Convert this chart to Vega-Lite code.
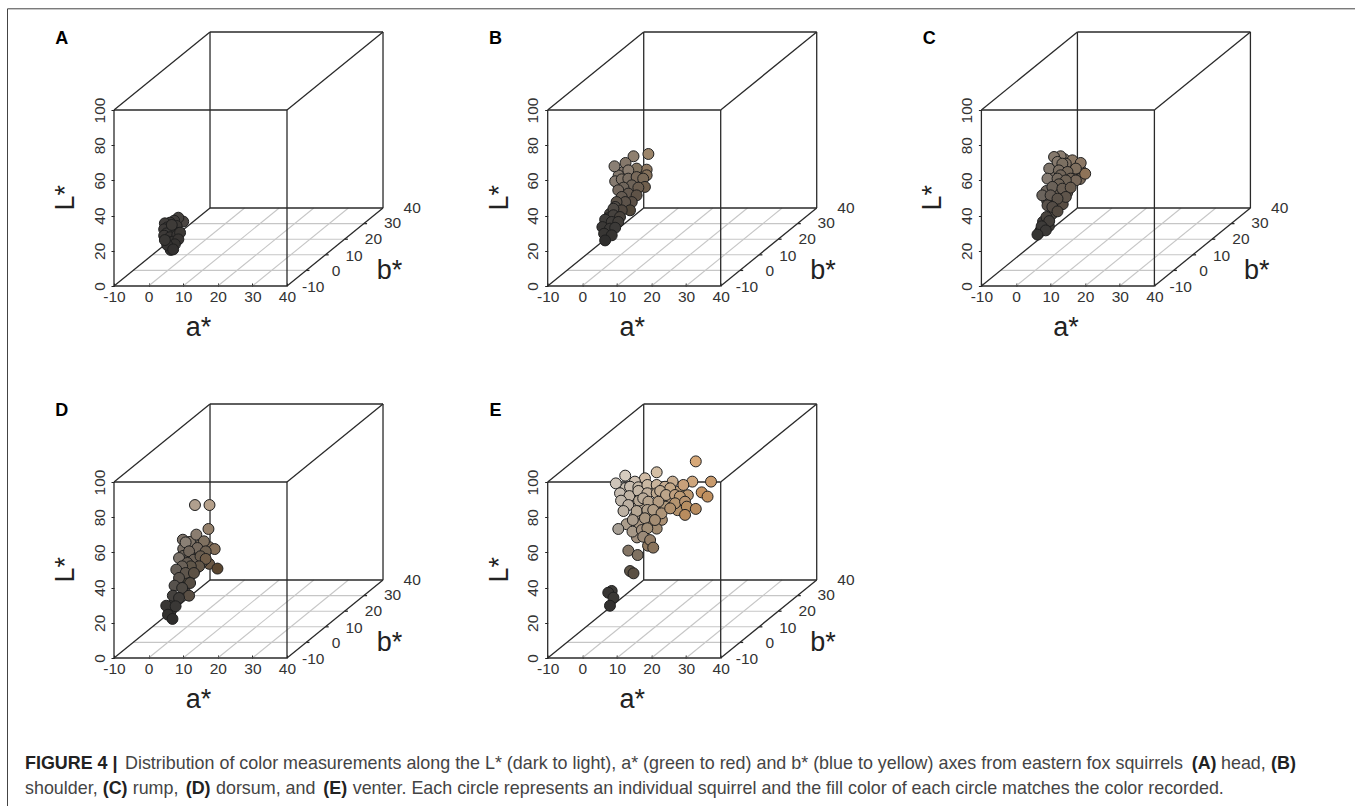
{
"$schema":"https://vega.github.io/schema/vega-lite/v6.json",
"padding":{"left":7,"top":8,"right":0,"bottom":0},
"config":{"view":{"stroke":null},"font":"Liberation Sans"},
"datasets":{
"points":[
{"panel":"B","a":12.0,"L":65.0,"c":"#80746a"},{"panel":"B","a":16.5,"L":64.0,"c":"#7c6d5c"},{"panel":"B","a":10.5,"L":62.8,"c":"#82776c"},{"panel":"B","a":14.8,"L":60.0,"c":"#74675a"},{"panel":"B","a":12.6,"L":58.3,"c":"#72675c"},{"panel":"B","a":15.0,"L":54.0,"c":"#675a4d"},{"panel":"B","a":11.8,"L":53.0,"c":"#6b6157"},{"panel":"B","a":13.0,"L":49.5,"c":"#5f554b"},{"panel":"B","a":10.7,"L":45.5,"c":"#57504a"},{"panel":"B","a":12.5,"L":45.0,"c":"#564c42"},{"panel":"B","a":8.0,"L":41.0,"c":"#48443f"},{"panel":"B","a":7.5,"L":38.5,"c":"#413e3b"},{"panel":"B","a":9.8,"L":41.5,"c":"#4a443e"},{"panel":"B","a":7.0,"L":31.0,"c":"#383634"},
{"panel":"C","a":14.0,"L":72.0,"c":"#857869"},{"panel":"C","a":15.5,"L":68.0,"c":"#80725f"},{"panel":"C","a":18.5,"L":66.5,"c":"#84735f"},{"panel":"C","a":10.8,"L":63.5,"c":"#7d7268"},{"panel":"C","a":13.5,"L":64.5,"c":"#77695c"},{"panel":"C","a":16.0,"L":63.0,"c":"#75675a"},{"panel":"C","a":18.5,"L":60.8,"c":"#7a6a5a"},{"panel":"C","a":11.0,"L":59.0,"c":"#72675d"},{"panel":"C","a":13.0,"L":59.0,"c":"#6f6458"},{"panel":"C","a":8.8,"L":54.0,"c":"#6f675f"},{"panel":"C","a":12.0,"L":53.5,"c":"#675d53"},{"panel":"C","a":14.8,"L":53.0,"c":"#64584c"},{"panel":"C","a":9.0,"L":48.5,"c":"#5f574f"},{"panel":"C","a":11.2,"L":47.5,"c":"#5a5148"},{"panel":"C","a":13.5,"L":46.5,"c":"#584d43"},{"panel":"C","a":10.5,"L":41.0,"c":"#4e4841"},{"panel":"C","a":7.8,"L":36.5,"c":"#413e3b"},{"panel":"C","a":9.5,"L":34.0,"c":"#3e3b38"},{"panel":"C","a":7.0,"L":31.2,"c":"#393735"},
{"panel":"D","a":12.0,"L":66.0,"c":"#7f7468"},{"panel":"D","a":15.0,"L":64.5,"c":"#7a6d5e"},{"panel":"D","a":17.5,"L":63.0,"c":"#7d6c59"},{"panel":"D","a":10.0,"L":62.0,"c":"#7a7066"},{"panel":"D","a":13.0,"L":60.0,"c":"#6f6458"},{"panel":"D","a":15.0,"L":59.5,"c":"#6c6053"},{"panel":"D","a":10.0,"L":58.0,"c":"#736a60"},{"panel":"D","a":12.0,"L":57.0,"c":"#6c6258"},{"panel":"D","a":17.5,"L":53.5,"c":"#6a5845"},{"panel":"D","a":13.5,"L":50.3,"c":"#5f5549"},{"panel":"D","a":15.5,"L":54.5,"c":"#64574a"},{"panel":"D","a":9.5,"L":48.5,"c":"#5e564e"},{"panel":"D","a":11.7,"L":46.0,"c":"#5a5147"},{"panel":"D","a":10.5,"L":43.5,"c":"#57503f"},{"panel":"D","a":8.5,"L":42.5,"c":"#524d47"},{"panel":"D","a":10.5,"L":37.5,"c":"#4c4640"},{"panel":"D","a":7.5,"L":32.0,"c":"#3c3a37"},{"panel":"D","a":6.5,"L":27.0,"c":"#363432"},
{"panel":"E","a":12.5,"L":96.5,"c":"#c9bfb2"},{"panel":"E","a":14.9,"L":94.5,"c":"#c4b8a9"},{"panel":"E","a":17.5,"L":96.0,"c":"#c5b6a3"},{"panel":"E","a":20.0,"L":96.0,"c":"#c6b29a"},{"panel":"E","a":23.0,"L":91.0,"c":"#bba488"},{"panel":"E","a":25.5,"L":90.0,"c":"#b9a084"},{"panel":"E","a":27.8,"L":94.5,"c":"#c0a07c"},{"panel":"E","a":30.5,"L":92.5,"c":"#bd9870"},{"panel":"E","a":12.3,"L":91.0,"c":"#c0b5a8"},{"panel":"E","a":14.8,"L":88.0,"c":"#bcae9d"},{"panel":"E","a":18.0,"L":86.5,"c":"#b5a591"},{"panel":"E","a":21.0,"L":86.5,"c":"#b29e85"},{"panel":"E","a":24.0,"L":86.0,"c":"#b0997c"},{"panel":"E","a":27.5,"L":84.0,"c":"#b2906a"},{"panel":"E","a":15.2,"L":80.5,"c":"#b0a18f"},{"panel":"E","a":19.8,"L":81.0,"c":"#ac987f"},{"panel":"E","a":23.0,"L":78.5,"c":"#a98f73"},{"panel":"E","a":16.5,"L":76.0,"c":"#a89682"},{"panel":"E","a":19.5,"L":76.5,"c":"#a5917a"},{"panel":"E","a":12.8,"L":76.0,"c":"#ab9d8c"},{"panel":"E","a":21.5,"L":73.5,"c":"#a08a70"},{"panel":"E","a":15.8,"L":68.5,"c":"#a08f7e"},{"panel":"E","a":19.0,"L":63.8,"c":"#90795f"},
{"panel":"A","a":10.0,"L":36.6,"c":"#4a4542"},{"panel":"A","a":8.6,"L":38.8,"c":"#45413e"},{"panel":"A","a":7.4,"L":37.1,"c":"#403c3a"},{"panel":"A","a":6.2,"L":36.0,"c":"#3e3b39"},{"panel":"A","a":4.7,"L":35.6,"c":"#403d3b"},{"panel":"A","a":5.4,"L":33.3,"c":"#3c3937"},{"panel":"A","a":4.5,"L":32.2,"c":"#3e3b39"},{"panel":"A","a":8.1,"L":34.1,"c":"#3d3a37"},{"panel":"A","a":7.0,"L":31.4,"c":"#3b3836"},{"panel":"A","a":5.2,"L":29.9,"c":"#3c3a38"},{"panel":"A","a":4.5,"L":28.6,"c":"#3d3a38"},{"panel":"A","a":6.2,"L":27.7,"c":"#393634"},{"panel":"A","a":8.3,"L":29.0,"c":"#3a3735"},{"panel":"A","a":9.1,"L":30.3,"c":"#3b3835"},{"panel":"A","a":5.7,"L":25.2,"c":"#373533"},{"panel":"A","a":7.1,"L":25.2,"c":"#363432"},{"panel":"A","a":8.6,"L":26.5,"c":"#383533"},{"panel":"A","a":6.2,"L":22.3,"c":"#343231"},{"panel":"A","a":7.6,"L":23.7,"c":"#353331"},{"panel":"A","a":6.4,"L":20.5,"c":"#323130"},{"panel":"A","a":5.4,"L":23.3,"c":"#353332"},{"panel":"A","a":7.1,"L":20.8,"c":"#333130"},{"panel":"A","a":4.7,"L":26.1,"c":"#393735"},{"panel":"A","a":6.7,"L":34.7,"c":"#3e3b38"},
{"panel":"B","a":19.1,"L":75.0,"c":"#9c856a"},{"panel":"B","a":14.8,"L":73.7,"c":"#8f8070"},{"panel":"B","a":9.3,"L":68.0,"c":"#8a7f74"},{"panel":"B","a":12.5,"L":69.9,"c":"#85786b"},{"panel":"B","a":18.6,"L":66.1,"c":"#8c765f"},{"panel":"B","a":15.7,"L":66.7,"c":"#80725f"},{"panel":"B","a":13.3,"L":65.7,"c":"#8a7d70"},{"panel":"B","a":18.6,"L":62.9,"c":"#84705a"},{"panel":"B","a":9.5,"L":59.5,"c":"#857a70"},{"panel":"B","a":11.4,"L":60.6,"c":"#807468"},{"panel":"B","a":13.3,"L":61.0,"c":"#7a6e62"},{"panel":"B","a":15.7,"L":61.9,"c":"#78695a"},{"panel":"B","a":17.6,"L":61.0,"c":"#7a6a58"},{"panel":"B","a":18.1,"L":56.3,"c":"#6f5e4c"},{"panel":"B","a":14.3,"L":57.2,"c":"#6e6358"},{"panel":"B","a":11.9,"L":55.9,"c":"#6f655b"},{"panel":"B","a":16.2,"L":55.9,"c":"#6c5e50"},{"panel":"B","a":10.4,"L":54.4,"c":"#75695f"},{"panel":"B","a":13.3,"L":52.5,"c":"#655a50"},{"panel":"B","a":15.7,"L":51.5,"c":"#5f5347"},{"panel":"B","a":11.4,"L":50.6,"c":"#655b52"},{"panel":"B","a":14.3,"L":47.7,"c":"#5a4f45"},{"panel":"B","a":12.4,"L":47.7,"c":"#5d534a"},{"panel":"B","a":9.9,"L":47.7,"c":"#5b5249"},{"panel":"B","a":9.5,"L":44.9,"c":"#55504a"},{"panel":"B","a":13.8,"L":43.0,"c":"#504639"},{"panel":"B","a":11.4,"L":43.0,"c":"#50473f"},{"panel":"B","a":9.0,"L":43.9,"c":"#4f4a45"},{"panel":"B","a":9.0,"L":40.2,"c":"#46423e"},{"panel":"B","a":10.9,"L":39.2,"c":"#48423c"},{"panel":"B","a":6.6,"L":37.7,"c":"#3e3c3a"},{"panel":"B","a":8.5,"L":36.4,"c":"#403d3a"},{"panel":"B","a":10.4,"L":36.4,"c":"#423e3a"},{"panel":"B","a":5.8,"L":33.5,"c":"#3a3836"},{"panel":"B","a":8.0,"L":32.6,"c":"#3b3937"},{"panel":"B","a":9.5,"L":33.1,"c":"#3c3a38"},{"panel":"B","a":6.3,"L":29.7,"c":"#383634"},{"panel":"B","a":8.5,"L":28.8,"c":"#353331"},{"panel":"B","a":6.6,"L":25.9,"c":"#2f2e2d"},
{"panel":"C","a":12.9,"L":73.7,"c":"#8a7d70"},{"panel":"C","a":11.0,"L":73.3,"c":"#85796d"},{"panel":"C","a":16.3,"L":71.4,"c":"#8a7865"},{"panel":"C","a":18.7,"L":69.9,"c":"#8c7865"},{"panel":"C","a":20.0,"L":63.8,"c":"#8e7358"},{"panel":"C","a":12.0,"L":70.5,"c":"#85796d"},{"panel":"C","a":14.4,"L":69.5,"c":"#7f7264"},{"panel":"C","a":13.4,"L":69.5,"c":"#7c7062"},{"panel":"C","a":9.6,"L":66.7,"c":"#80766c"},{"panel":"C","a":17.3,"L":66.7,"c":"#80705f"},{"panel":"C","a":12.4,"L":65.7,"c":"#7a6e62"},{"panel":"C","a":14.9,"L":64.8,"c":"#75685a"},{"panel":"C","a":12.9,"L":62.9,"c":"#72665a"},{"panel":"C","a":9.1,"L":61.0,"c":"#857b72"},{"panel":"C","a":12.0,"L":61.0,"c":"#756a5f"},{"panel":"C","a":15.8,"L":61.0,"c":"#706356"},{"panel":"C","a":17.3,"L":60.0,"c":"#77685a"},{"panel":"C","a":14.4,"L":60.0,"c":"#6f6356"},{"panel":"C","a":12.4,"L":57.8,"c":"#6d6256"},{"panel":"C","a":10.5,"L":56.3,"c":"#6b6259"},{"panel":"C","a":13.4,"L":55.3,"c":"#685d52"},{"panel":"C","a":15.8,"L":55.9,"c":"#6a5d50"},{"panel":"C","a":7.6,"L":51.5,"c":"#6b645d"},{"panel":"C","a":10.0,"L":51.5,"c":"#655c54"},{"panel":"C","a":14.4,"L":50.6,"c":"#5f554b"},{"panel":"C","a":12.0,"L":49.6,"c":"#5c534a"},{"panel":"C","a":9.1,"L":45.8,"c":"#5a524b"},{"panel":"C","a":10.5,"L":44.9,"c":"#544c45"},{"panel":"C","a":12.0,"L":42.4,"c":"#534a41"},{"panel":"C","a":8.8,"L":39.2,"c":"#48433e"},{"panel":"C","a":9.6,"L":36.9,"c":"#433f3b"},{"panel":"C","a":7.4,"L":33.9,"c":"#3d3b39"},{"panel":"C","a":8.6,"L":31.6,"c":"#3b3937"},{"panel":"C","a":6.2,"L":29.2,"c":"#363533"},
{"panel":"D","a":13.4,"L":86.9,"c":"#b09f8e"},{"panel":"D","a":17.6,"L":86.9,"c":"#b5a08a"},{"panel":"D","a":17.3,"L":73.3,"c":"#95816c"},{"panel":"D","a":13.8,"L":70.1,"c":"#8a7d70"},{"panel":"D","a":9.9,"L":67.2,"c":"#7d7268"},{"panel":"D","a":10.7,"L":65.7,"c":"#8a8075"},{"panel":"D","a":16.0,"L":66.3,"c":"#7f7160"},{"panel":"D","a":19.1,"L":61.9,"c":"#85705a"},{"panel":"D","a":14.1,"L":62.5,"c":"#766a5e"},{"panel":"D","a":11.7,"L":60.6,"c":"#72675c"},{"panel":"D","a":16.5,"L":60.6,"c":"#6f6252"},{"panel":"D","a":8.8,"L":56.8,"c":"#7d746b"},{"panel":"D","a":13.1,"L":55.9,"c":"#6b6055"},{"panel":"D","a":15.0,"L":57.8,"c":"#6a5d4f"},{"panel":"D","a":16.5,"L":56.3,"c":"#6f5c48"},{"panel":"D","a":19.9,"L":50.8,"c":"#5a4630"},{"panel":"D","a":11.2,"L":54.0,"c":"#665c52"},{"panel":"D","a":14.6,"L":52.1,"c":"#635749"},{"panel":"D","a":12.2,"L":52.1,"c":"#605649"},{"panel":"D","a":9.7,"L":52.1,"c":"#6a6158"},{"panel":"D","a":8.0,"L":50.2,"c":"#655e57"},{"panel":"D","a":10.7,"L":48.3,"c":"#5e554c"},{"panel":"D","a":13.1,"L":48.3,"c":"#5c5145"},{"panel":"D","a":8.8,"L":45.5,"c":"#5a534c"},{"panel":"D","a":12.0,"L":42.6,"c":"#564d43"},{"panel":"D","a":7.5,"L":41.1,"c":"#57524d"},{"panel":"D","a":9.7,"L":39.8,"c":"#4f4a44"},{"panel":"D","a":11.7,"L":35.4,"c":"#5a4f44"},{"panel":"D","a":7.0,"L":35.4,"c":"#45423f"},{"panel":"D","a":8.8,"L":34.1,"c":"#403d3a"},{"panel":"D","a":5.1,"L":29.7,"c":"#383634"},{"panel":"D","a":7.8,"L":29.4,"c":"#3a3836"},{"panel":"D","a":5.6,"L":24.6,"c":"#32312f"},{"panel":"D","a":6.9,"L":22.2,"c":"#2e2d2c"},
{"panel":"E","a":32.8,"L":111.7,"c":"#d7a878"},{"panel":"E","a":21.5,"L":105.5,"c":"#d4bfa5"},{"panel":"E","a":12.4,"L":103.6,"c":"#d6ccbf"},{"panel":"E","a":18.1,"L":102.1,"c":"#d0bba5"},{"panel":"E","a":9.7,"L":99.2,"c":"#cfc5ba"},{"panel":"E","a":31.8,"L":100.2,"c":"#cfa67c"},{"panel":"E","a":37.2,"L":100.2,"c":"#c89a6c"},{"panel":"E","a":26.1,"L":100.2,"c":"#c8ad90"},{"panel":"E","a":15.2,"L":100.2,"c":"#cdbfb0"},{"panel":"E","a":29.2,"L":98.3,"c":"#c8a07a"},{"panel":"E","a":13.8,"L":97.3,"c":"#c9bdaf"},{"panel":"E","a":16.2,"L":97.0,"c":"#c8bba9"},{"panel":"E","a":18.8,"L":98.3,"c":"#c9b8a2"},{"panel":"E","a":21.5,"L":98.3,"c":"#c8b49c"},{"panel":"E","a":23.9,"L":97.3,"c":"#c6ad92"},{"panel":"E","a":25.4,"L":96.4,"c":"#c4a888"},{"panel":"E","a":10.9,"L":93.6,"c":"#c5bbb0"},{"panel":"E","a":13.6,"L":92.0,"c":"#c0b3a4"},{"panel":"E","a":16.2,"L":94.9,"c":"#c4b6a5"},{"panel":"E","a":18.8,"L":93.6,"c":"#c0af9b"},{"panel":"E","a":21.5,"L":93.6,"c":"#bfaa90"},{"panel":"E","a":22.5,"L":94.9,"c":"#c0aa90"},{"panel":"E","a":24.2,"L":92.6,"c":"#bda58a"},{"panel":"E","a":26.8,"L":92.6,"c":"#bf9f7e"},{"panel":"E","a":28.2,"L":91.7,"c":"#bd9a74"},{"panel":"E","a":34.5,"L":94.1,"c":"#c4915f"},{"panel":"E","a":36.2,"L":91.7,"c":"#c0905f"},{"panel":"E","a":11.2,"L":89.4,"c":"#c0b6aa"},{"panel":"E","a":16.4,"L":89.4,"c":"#b8a996"},{"panel":"E","a":17.6,"L":90.7,"c":"#bbac9a"},{"panel":"E","a":19.1,"L":88.8,"c":"#b6a48e"},{"panel":"E","a":22.0,"L":88.8,"c":"#b39c82"},{"panel":"E","a":26.8,"L":87.9,"c":"#b5946f"},{"panel":"E","a":29.7,"L":88.8,"c":"#b9946f"},{"panel":"E","a":13.3,"L":86.9,"c":"#bcb0a2"},{"panel":"E","a":11.9,"L":83.5,"c":"#bcb1a4"},{"panel":"E","a":15.7,"L":83.5,"c":"#b5a693"},{"panel":"E","a":18.8,"L":84.1,"c":"#b0a08c"},{"panel":"E","a":20.5,"L":84.1,"c":"#b09c84"},{"panel":"E","a":22.9,"L":82.2,"c":"#ad9478"},{"panel":"E","a":25.4,"L":85.0,"c":"#b0906d"},{"panel":"E","a":30.2,"L":86.0,"c":"#b88f62"},{"panel":"E","a":32.8,"L":84.7,"c":"#b88c60"},{"panel":"E","a":29.7,"L":81.3,"c":"#b98c5e"},{"panel":"E","a":14.6,"L":78.4,"c":"#aa9c8c"},{"panel":"E","a":18.1,"L":79.4,"c":"#a89680"},{"panel":"E","a":21.0,"L":78.4,"c":"#a48d73"},{"panel":"E","a":10.4,"L":73.3,"c":"#a8a096"},{"panel":"E","a":14.5,"L":71.8,"c":"#a69888"},{"panel":"E","a":17.2,"L":72.7,"c":"#a18f7c"},{"panel":"E","a":18.8,"L":73.7,"c":"#a08d75"},{"panel":"E","a":17.6,"L":68.9,"c":"#9b8a78"},{"panel":"E","a":19.6,"L":67.0,"c":"#957f68"},{"panel":"E","a":20.5,"L":62.7,"c":"#8a745c"},{"panel":"E","a":13.3,"L":61.0,"c":"#847565"},{"panel":"E","a":16.0,"L":58.5,"c":"#7f7161"},{"panel":"E","a":13.8,"L":49.4,"c":"#5f5548"},{"panel":"E","a":14.8,"L":48.1,"c":"#5a4f42"},{"panel":"E","a":8.5,"L":38.1,"c":"#3c3a37"},{"panel":"E","a":7.5,"L":37.1,"c":"#383634"},{"panel":"E","a":9.0,"L":34.3,"c":"#3a3835"},{"panel":"E","a":8.0,"L":29.7,"c":"#333130"}
],
"floor":[
{"a":-4.45,"a2":45.55,"L":8.86,"L2":8.86},{"a":1.1,"a2":51.1,"L":17.72,"L2":17.72},{"a":6.65,"a2":56.65,"L":26.58,"L2":26.58},{"a":12.2,"a2":62.2,"L":35.44,"L2":35.44},
{"a":0,"a2":27.75,"L":0,"L2":44.3},{"a":10,"a2":37.75,"L":0,"L2":44.3},{"a":20,"a2":47.75,"L":0,"L2":44.3},{"a":30,"a2":57.75,"L":0,"L2":44.3}
],
"box":[
{"a":-10,"a2":40,"L":0,"L2":0},{"a":-10,"a2":40,"L":100,"L2":100},{"a":-10,"a2":-10,"L":0,"L2":100},{"a":40,"a2":40,"L":0,"L2":100},
{"a":17.75,"a2":67.75,"L":44.3,"L2":44.3},{"a":17.75,"a2":67.75,"L":144.3,"L2":144.3},{"a":17.75,"a2":17.75,"L":44.3,"L2":144.3},{"a":67.75,"a2":67.75,"L":44.3,"L2":144.3},
{"a":-10,"a2":17.75,"L":0,"L2":44.3},{"a":-10,"a2":17.75,"L":100,"L2":144.3},{"a":40,"a2":67.75,"L":0,"L2":44.3},{"a":40,"a2":67.75,"L":100,"L2":144.3},
{"a":45.55,"a2":46.5,"L":8.86,"L2":8.86},{"a":51.1,"a2":52.05,"L":17.72,"L2":17.72},{"a":56.65,"a2":57.6,"L":26.58,"L2":26.58},{"a":62.2,"a2":63.15,"L":35.44,"L2":35.44}
],
"bLabels":[
{"a":47.6,"L":-0.8,"t":"-10"},{"a":54.2,"L":8.7,"t":"0"},{"a":59.4,"L":17.0,"t":"10"},{"a":65.0,"L":26.5,"t":"20"},{"a":70.5,"L":35.6,"t":"30"},{"a":76.2,"L":44.1,"t":"40"}
],
"bTitle":[{"a":69.6,"L":8.7,"t":"b*"}],
"frame":[{"x":7.5,"x2":1355,"y":8.5,"y2":8.5},{"x":7.5,"x2":7.5,"y":8.5,"y2":806}],
"caption":[
{"x":25,"y":769,"t":"FIGURE 4 |","w":"bold"},
{"x":125,"y":769,"t":"Distribution of color measurements along the L* (dark to light), a* (green to red) and b* (blue to yellow) axes from eastern fox squirrels","w":"normal"},
{"x":1191.7,"y":769,"t":"(A)","w":"bold"},
{"x":1221,"y":769,"t":"head,","w":"normal"},
{"x":1271,"y":769,"t":"(B)","w":"bold"},
{"x":25,"y":794,"t":"shoulder,","w":"normal"},
{"x":102.7,"y":794,"t":"(C)","w":"bold"},
{"x":132.7,"y":794,"t":"rump,","w":"normal"},
{"x":185.7,"y":794,"t":"(D)","w":"bold"},
{"x":216,"y":794,"t":"dorsum, and","w":"normal"},
{"x":323.3,"y":794,"t":"(E)","w":"bold"},
{"x":352.7,"y":794,"t":"venter. Each circle represents an individual squirrel and the fill color of each circle matches the color recorded.","w":"normal"}
]
},
"bounds":"flush",
"spacing":668.3,
"vconcat":[
{
"data":{"name":"points"},
"facet":{"field":"panel","type":"nominal","header":{"labelExpr":"''","title":null}},
"columns":3,
"bounds":"flush",
"spacing":{"column":127.7,"row":118},
"resolve":{"axis":{"x":"independent","y":"independent"}},
"spec":{
"width":306,"height":254,
"layer":[
{"data":{"name":"floor"},"mark":{"type":"rule","color":"#c6c6c6","strokeWidth":1.1},
"encoding":{
"x":{"field":"a","type":"quantitative","scale":{"domain":[-10,78.44],"nice":false,"zero":false},
"axis":{"title":"a*","titleFontSize":27,"titleFontWeight":"normal","titleColor":"#222","titleX":84,"titleY":49,"titleBaseline":"alphabetic","titleAlign":"center","values":[-10,0,10,20,30,40],"labelExpr":"datum.value + ''","grid":false,"domain":false,"tickColor":"#222","tickSize":-3,"labelFontSize":15.5,"labelColor":"#333","labelPadding":6,"labelFlush":false,"labelOverlap":false,"labelBound":false}},
"x2":{"field":"a2"},
"y":{"field":"L","type":"quantitative","scale":{"domain":[0,144.3],"nice":false,"zero":false},
"axis":{"title":"L*","titleFontSize":27,"titleFontWeight":"normal","titleColor":"#222","titleAngle":-90,"titleX":-40.7,"titleY":178,"titleBaseline":"alphabetic","titleAlign":"left","values":[0,20,40,60,80,100],"grid":false,"domain":false,"tickColor":"#222","tickSize":3,"labelAngle":-90,"labelFontSize":15.5,"labelColor":"#333","labelPadding":4,"labelFlush":false,"labelOverlap":false,"labelBound":false}},
"y2":{"field":"L2"}}},
{"data":{"name":"box"},"mark":{"type":"rule","color":"#2a2a2a","strokeWidth":1.3},
"encoding":{"x":{"field":"a","type":"quantitative"},"x2":{"field":"a2"},"y":{"field":"L","type":"quantitative"},"y2":{"field":"L2"}}},
{"data":{"name":"bLabels"},"mark":{"type":"text","fontSize":15.5,"color":"#333","align":"center","baseline":"middle"},
"encoding":{"x":{"field":"a","type":"quantitative"},"y":{"field":"L","type":"quantitative"},"text":{"field":"t"}}},
{"data":{"name":"bTitle"},"mark":{"type":"text","fontSize":27,"color":"#222","align":"center","baseline":"middle"},
"encoding":{"x":{"field":"a","type":"quantitative"},"y":{"field":"L","type":"quantitative"},"text":{"field":"t"}}},
{"mark":{"type":"circle","size":120,"opacity":1,"stroke":"#1f1f1f","strokeWidth":1},
"encoding":{"x":{"field":"a","type":"quantitative"},"y":{"field":"L","type":"quantitative"},"fill":{"field":"c","type":"nominal","scale":null}}},
{"transform":[{"aggregate":[{"op":"count","as":"n"}],"groupby":["panel"]}],
"mark":{"type":"text","fontSize":18,"fontWeight":"bold","color":"#000","align":"center","baseline":"middle"},
"encoding":{"x":{"datum":-25.1,"type":"quantitative"},"y":{"datum":140.3,"type":"quantitative"},"text":{"field":"panel"}}}
]
}
},
{
"width":1241,"height":106,
"layer":[
{"data":{"name":"frame"},"mark":{"type":"rule","color":"#444","strokeWidth":1},
"encoding":{"x":{"field":"x","type":"quantitative","scale":{"domain":[114,1355],"nice":false,"zero":false},"axis":null},"x2":{"field":"x2"},
"y":{"field":"y","type":"quantitative","scale":{"domain":[700,806],"reverse":true,"nice":false,"zero":false},"axis":null},"y2":{"field":"y2"}}},
{"data":{"name":"caption"},"transform":[{"filter":"datum.w==='normal'"}],"mark":{"type":"text","fontSize":17.9,"color":"#444","align":"left","baseline":"alphabetic"},
"encoding":{"x":{"field":"x","type":"quantitative","axis":null},"y":{"field":"y","type":"quantitative","axis":null},"text":{"field":"t"}}},
{"data":{"name":"caption"},"transform":[{"filter":"datum.w==='bold'"}],"mark":{"type":"text","fontSize":17.9,"fontWeight":"bold","color":"#222","align":"left","baseline":"alphabetic"},
"encoding":{"x":{"field":"x","type":"quantitative","axis":null},"y":{"field":"y","type":"quantitative","axis":null},"text":{"field":"t"}}}
]
}
]
}
